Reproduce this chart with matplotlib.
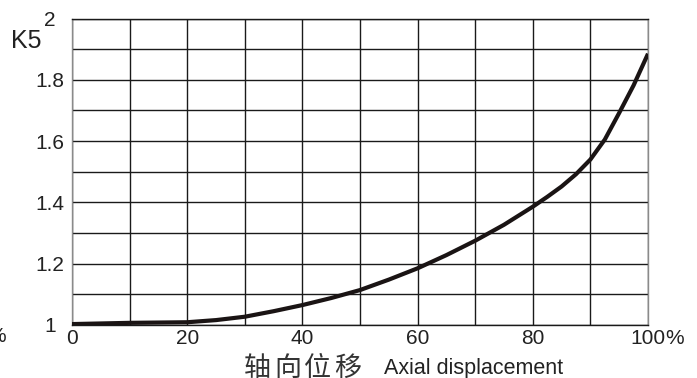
import matplotlib
matplotlib.use('Agg')
import matplotlib.pyplot as plt
import numpy as np

plt.rcParams['font.family'] = ['Liberation Sans', 'DejaVu Sans']

# K5 coefficient against axial displacement (%)
displacement = [0, 5, 10, 15, 20, 25, 30, 35, 40, 45, 50, 55, 60, 65, 70,
                75, 80, 82.5, 85, 87.5, 90, 92.5, 95, 97.5, 100]
k5 = [1.003, 1.005, 1.007, 1.008, 1.009, 1.016, 1.027, 1.045, 1.065, 1.088,
      1.114, 1.148, 1.185, 1.228, 1.275, 1.327, 1.386, 1.418, 1.452, 1.492,
      1.54, 1.605, 1.692, 1.782, 1.885]

x_ticks = [0, 20, 40, 60, 80, 100]
x_labels = ['0', '20', '40', '60', '80', '100']
y_ticks = [1, 1.2, 1.4, 1.6, 1.8, 2]
y_labels = ['1', '1.2', '1.4', '1.6', '1.8', '2']
x_title_cn = ['轴', '向', '位', '移']

fig = plt.figure(figsize=(6.97, 3.78), dpi=100)
ax = fig.add_axes([72 / 697, 53 / 378, 576 / 697, 306.5 / 378])

ax.plot(displacement, k5, color='#1a1414', lw=3.0, solid_capstyle='butt', zorder=3)

ax.set_xlim(0, 100)
ax.set_ylim(1, 2)
ax.set_xticks(x_ticks)
ax.set_xticklabels(x_labels)
ax.set_xticks(np.arange(0, 101, 10), minor=True)
ax.set_yticks(y_ticks)
ax.set_yticklabels(y_labels, ha='center')
ax.set_yticks(np.arange(1, 2.01, 0.1), minor=True)
ax.grid(True, which='both', color='#1a1a1a', lw=1.0)
ax.set_axisbelow(True)

ax.tick_params(which='both', length=0, labelsize=15, colors='#222222')
ax.tick_params(axis='y', pad=15.8)
ax.tick_params(axis='x', pad=3)

for side in ['left', 'right']:
    ax.spines[side].set_color('#8a8a8a')
    ax.spines[side].set_linewidth(1.0)
for side in ['top', 'bottom']:
    ax.spines[side].set_color('#1a1a1a')
    ax.spines[side].set_linewidth(1.0)

# percent sign right after the last x tick label
ax.annotate('%', xy=(100, 0), xycoords=('data', 'axes fraction'),
            xytext=(12.5, -3), textcoords='offset points',
            ha='left', va='top', fontsize=15, color='#222222')

fig.text(11 / 697, (378 - 48) / 378, 'K5', fontsize=18, color='#222222',
         ha='left', va='baseline')
fig.text(6 / 697, (378 - 336) / 378, '%', fontsize=15, color='#222222',
         ha='right', va='center')

# spaced-out Chinese axis title, one character at a time
for i, ch in enumerate(x_title_cn):
    fig.text((244 + 30 * i) / 697, 2 / 378, ch, fontsize=19.5, color='#333333',
             family=['Noto Sans CJK SC'], ha='left', va='baseline')
fig.text(384 / 697, 4 / 378, 'Axial displacement', fontsize=15.5, color='#222222',
         ha='left', va='baseline')

fig.savefig('out.png', dpi=100)
